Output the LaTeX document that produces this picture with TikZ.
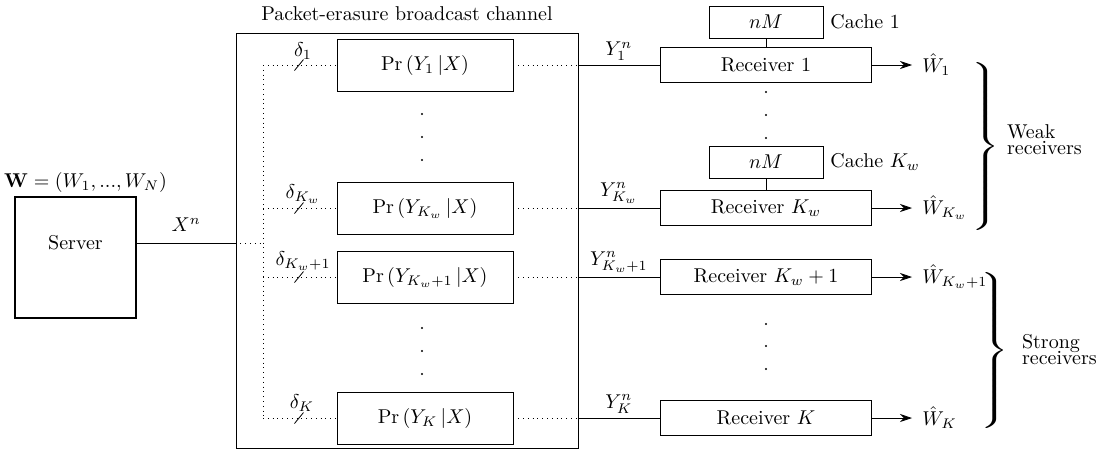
\documentclass[tikz,border=0pt]{standalone}
\usetikzlibrary{arrows.meta}

\tikzset{
    prbox/.style={draw, minimum width=88pt, minimum height=26pt},
    rxbox/.style={draw, thick, minimum width=105.5pt, minimum height=17.5pt},
    cachebox/.style={draw, minimum width=57pt, minimum height=16pt},
    serverbox/.style={draw, thick, minimum width=60.5pt, minimum height=60.5pt},
    estimate/.style={anchor=west, inner xsep=5pt},
    decoded/.style={-{Stealth[length=6pt,width=4pt]}},
}

\begin{document}
\begin{tikzpicture}[x=0.5pt,y=-0.5pt]
        \useasboundingbox (0,0) rectangle (1101,451);

        % Server
        \node[serverbox] (server) at (75.5,257.5) {};
        \node (servername) at (75.5,243) {Server};
        \node (msg) at (85.5,182) {$\mathbf{W}=(W_1,...,W_N)$};
        \coordinate (xin) at (263,243);

        % Channel
        \node[draw, minimum width=171pt, minimum height=207.5pt] (chan) at (407,240.5) {};
        \node (title) at (407,14) {Packet-erasure broadcast channel};
        \draw (server.east |- xin) -- node[above=2pt] {$X^n$} (chan.west |- xin);
        \draw[dotted] (chan.west |- xin) -- (xin);

        % Receiver 1
        \begin{scope}[shift={(0,65)}]
            \coordinate (c1) at (263,0);
            \coordinate (s1) at (299,0);
            \coordinate (e1) at (578,0);
            \node[prbox] (pr1) at (425,0) {$\Pr\left(Y_1\,|X\right)$};
            \node[rxbox] (rx1) at (766,0) {Receiver 1};
            \node[estimate] (w1) at (912,0) {$\hat{W}_1$};
            \node[cachebox] (cache1) at (766,-43) {$nM$};
            \node[right] (cachename1) at (cache1.east) {Cache 1};
            \node (d1) at (303,-14) {$\delta_1$};
            \draw[dotted] (c1) -- (pr1.west);
            \draw (s1) ++(-4.5,5.5) -- ++(9,-11);
            \draw[dotted] (pr1.east) -- (e1);
            \draw (e1) -- node[above,inner sep=2pt] {$Y_1^n$} (rx1.west);
            \draw (cache1.south) -- (rx1.north);
            \draw[decoded] (rx1.east) -- (w1.west);
        \end{scope}

        % Receiver K_w
        \begin{scope}[shift={(0,208)}]
            \coordinate (c2) at (263,0);
            \coordinate (s2) at (299,0);
            \coordinate (e2) at (578,0);
            \node[prbox] (pr2) at (425,0) {$\Pr\left(Y_{K_w}\,|X\right)$};
            \node[rxbox] (rx2) at (766,0) {Receiver $K_w$};
            \node[estimate] (w2) at (912,0) {$\hat{W}_{K_w}$};
            \node[cachebox] (cache2) at (766,-46) {$nM$};
            \node[right] (cachename2) at (cache2.east) {Cache $K_w$};
            \node (d2) at (303,-14) {$\delta_{K_w}$};
            \draw[dotted] (c2) -- (pr2.west);
            \draw (s2) ++(-4.5,5.5) -- ++(9,-11);
            \draw[dotted] (pr2.east) -- (e2);
            \draw (e2) -- node[above,inner sep=2pt] {$Y_{K_w}^n$} (rx2.west);
            \draw (cache2.south) -- (rx2.north);
            \draw[decoded] (rx2.east) -- (w2.west);
        \end{scope}

        % Receiver K_w+1
        \begin{scope}[shift={(0,277)}]
            \coordinate (c3) at (263,0);
            \coordinate (s3) at (299,0);
            \coordinate (e3) at (578,0);
            \node[prbox] (pr3) at (425,0) {$\Pr\left(Y_{K_w+1}\,|X\right)$};
            \node[rxbox] (rx3) at (766,0) {Receiver $K_w+1$};
            \node[estimate] (w3) at (912,0) {$\hat{W}_{K_w+1}$};
            \node (d3) at (303,-16) {$\delta_{K_w+1}$};
            \draw[dotted] (c3) -- (pr3.west);
            \draw (s3) ++(-4.5,5.5) -- ++(9,-11);
            \draw[dotted] (pr3.east) -- (e3);
            \draw (e3) -- node[above,inner sep=2pt] {$Y_{K_w+1}^n$} (rx3.west);
            \draw[decoded] (rx3.east) -- (w3.west);
        \end{scope}

        % Receiver K
        \begin{scope}[shift={(0,418)}]
            \coordinate (c4) at (263,0);
            \coordinate (s4) at (299,0);
            \coordinate (e4) at (578,0);
            \node[prbox] (pr4) at (425,0) {$\Pr\left(Y_K\,|X\right)$};
            \node[rxbox] (rx4) at (766,0) {Receiver $K$};
            \node[estimate] (w4) at (912,0) {$\hat{W}_K$};
            \node (d4) at (302,-15) {$\delta_K$};
            \draw[dotted] (c4) -- (pr4.west);
            \draw (s4) ++(-4.5,5.5) -- ++(9,-11);
            \draw[dotted] (pr4.east) -- (e4);
            \draw (e4) -- node[above,inner sep=2pt] {$Y_K^n$} (rx4.west);
            \draw[decoded] (rx4.east) -- (w4.west);
        \end{scope}

        % Broadcast line
        \draw[dotted] (c1) -- (c4);

        % Vertical dots
        \fill (422,114) circle (1.1); \fill (422,137) circle (1.1); \fill (422,160) circle (1.1);
        \fill (422,328) circle (1.1); \fill (422,351) circle (1.1); \fill (422,374) circle (1.1);
        \fill (766,92) circle (1.1);  \fill (766,115) circle (1.1); \fill (766,138) circle (1.1);
        \fill (766,324) circle (1.1); \fill (766,346) circle (1.1); \fill (766,369) circle (1.1);

        % Receiver groups
        \node[inner sep=0pt] (weak) at (984,148) {\scalebox{1.6}[1]{$\left.\vrule height 41.5pt depth 41.5pt width 0pt\right\}$}};
        \node[align=left, anchor=west] (weakname) at (1000,140) {Weak\\[-4pt]receivers};
        \node[inner sep=0pt] (strong) at (993,353) {\scalebox{1.6}[1]{$\left.\vrule height 39pt depth 39pt width 0pt\right\}$}};
        \node[align=left, anchor=west] (strongname) at (1015,350) {Strong\\[-4pt]receivers};
\end{tikzpicture}
\end{document}
